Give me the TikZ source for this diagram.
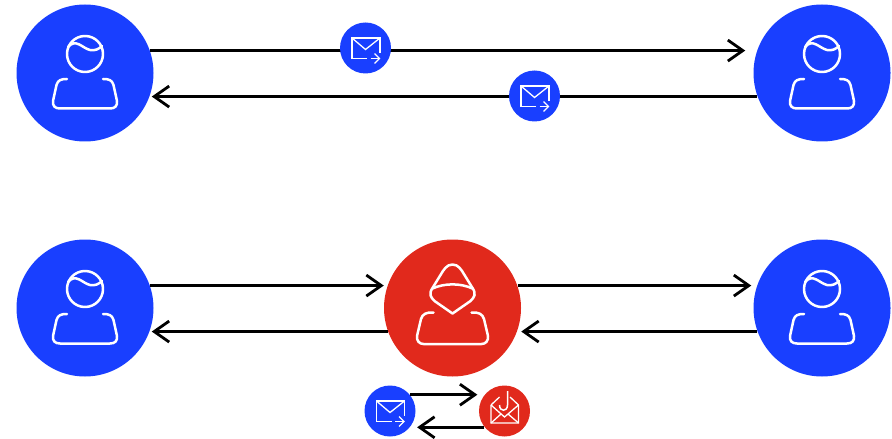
\documentclass[tikz,border=0pt]{standalone}
\usetikzlibrary{arrows.meta}
\definecolor{userblue}{HTML}{193FFF}
\definecolor{attackred}{HTML}{E1291C}
\tikzset{
  bignode/.style={circle,inner sep=0pt,minimum size=68.5pt},
  smallnode/.style={circle,inner sep=0pt,minimum size=25.5pt},
  conn/.style={line width=1.3pt,-{Straight Barb[length=7.5pt,width=10.5pt,line width=1.4pt]}},
  iconline/.style={white,line width=1.25pt,line cap=round,line join=round},
  thinline/.style={white,line width=.65pt},
  usericon/.pic={
    \draw[iconline] (0,-19) circle[radius=18];
    \draw[iconline] (-17,-26) .. controls (-9,-35) and (-3,-25) .. (5,-23) .. controls (10,-22) and (14,-24) .. (17,-27);
    \draw[iconline] (-18,6) .. controls (-24,6) and (-27,7) .. (-28.5,12) -- (-32,28) .. controls (-32.5,33) and (-30,35.5) .. (-25,35.5)
      -- (25,35.5) .. controls (30,35.5) and (32.5,33) .. (32,28) -- (28.5,12) .. controls (27,7) and (24,6) .. (18,6);
  },
  hackericon/.pic={
    \draw[iconline] (0,-43.5) .. controls (-6,-43.5) and (-9,-38) .. (-12,-33) -- (-20,-20) .. controls (-24,-14) and (-22,-11) .. (-18,-7)
      -- (0,5.5) -- (18,-7) .. controls (22,-11) and (24,-14) .. (20,-20) -- (12,-33) .. controls (9,-38) and (6,-43.5) .. (0,-43.5);
    \draw[iconline] (-20,-19.5) .. controls (-8,-25) and (8,-25) .. (20,-19.5);
    \draw[iconline] (-19,4.5) .. controls (-26,4) and (-30,6) .. (-31.5,11) -- (-35.5,28) .. controls (-36,33) and (-33,36) .. (-29,36)
      -- (29,36) .. controls (33,36) and (36,33) .. (35.5,28) -- (31.5,11) .. controls (30,6) and (26,4) .. (19,4.5);
  },
  mailicon/.pic={
    \draw[thinline] (1.5,10.5) -- (-13.5,10.5) -- (-13.5,-10) -- (14.5,-10) -- (14.5,5);
    \draw[thinline] (-13.5,-10) -- (0,1.5) -- (14.5,-10);
    \draw[thinline] (5,10.5) -- (14,10.5);
    \draw[thinline] (9,5.5) -- (14,10.5) -- (9,15.5);
  },
  phishicon/.pic={
    \draw[thinline] (-13.5,-6) -- (-13.5,12) -- (14,12) -- (14,-6) -- (5.5,-14);
    \draw[thinline] (-13.5,-6) -- (-5,-14);
    \draw[thinline] (-13.5,-6) -- (0,6) -- (14,-6);
    \draw[thinline] (-13.5,12) -- (-3.5,3);
    \draw[thinline] (14,12) -- (3.5,3);
    \draw[white,line width=.75pt] (3,-20) -- (3,-6) .. controls (3,1) and (-5,1) .. (-5,-6);
  }
}
\begin{document}
\begin{tikzpicture}[x=.5pt,y=-.5pt]
  \useasboundingbox (0,0) rectangle (892,438);

  \node[bignode,fill=userblue](alicetop) at (85,73) {};
  \node[bignode,fill=userblue](bobtop) at (822,73) {};
  \node[bignode,fill=userblue](alicelow) at (85,308) {};
  \node[bignode,fill=attackred](attacker) at (452.5,308) {};
  \node[bignode,fill=userblue](boblow) at (822,308) {};

  \draw[conn,shorten >=6pt] (alicetop.19.7) -- (alicetop.19.7 -| bobtop.160);
  \draw[conn,shorten >=1pt] (bobtop.200) -- (bobtop.200 -| alicetop.-20);
  \draw[conn,shorten >=2pt] (alicelow.19.7) -- (alicelow.19.7 -| attacker.160);
  \draw[conn,shorten >=3pt] (attacker.19.7) -- (attacker.19.7 -| boblow.160);
  \draw[conn,shorten >=2pt] (boblow.200) -- (boblow.200 -| attacker.-20);
  \draw[conn,shorten >=1pt] (attacker.200) -- (attacker.200 -| alicelow.-20);

  \node[smallnode,fill=userblue](mailgo) at (365.5,48) {};
  \node[smallnode,fill=userblue](mailback) at (534.5,96) {};
  \node[smallnode,fill=userblue](mailsent) at (390,411) {};
  \node[smallnode,fill=attackred](mailhook) at (504.5,411) {};

  \draw[conn,shorten >=3.5pt] (mailsent.39) -- (mailsent.39 -| mailhook.141);
  \draw[conn,shorten >=3.5pt] (mailhook.-141) -- (mailhook.-141 -| mailsent.-39);

  \foreach \n in {alicetop,bobtop,alicelow,boblow}
    \pic at (\n) {usericon};
  \pic at (attacker) {hackericon};
  \foreach \n in {mailgo,mailback,mailsent}
    \pic at (\n) {mailicon};
  \pic at (mailhook) {phishicon};
\end{tikzpicture}
\end{document}
